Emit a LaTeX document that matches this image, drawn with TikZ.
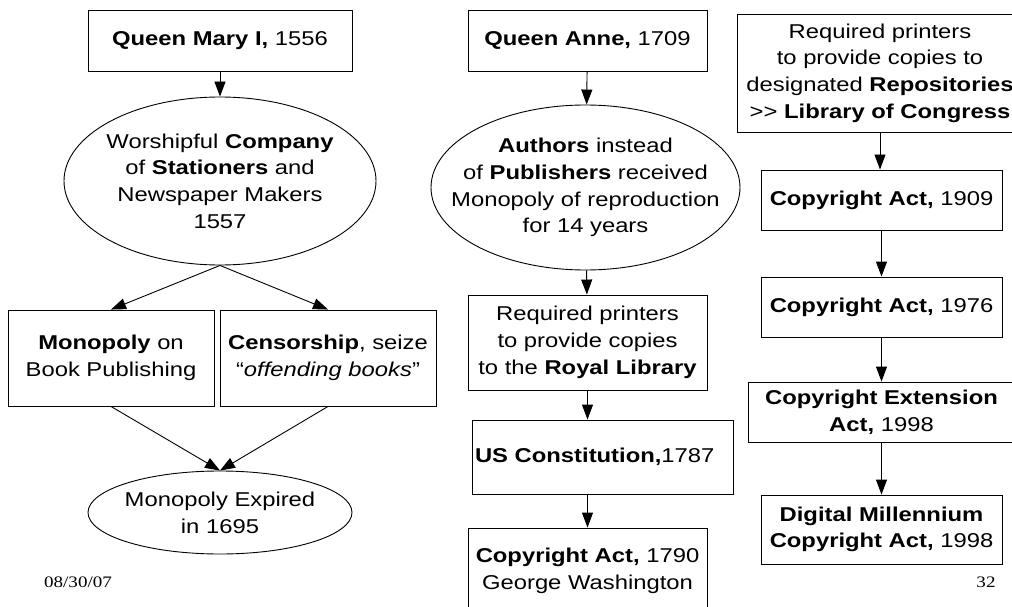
\documentclass[tikz,border=0pt]{standalone}
\usepackage{fontspec}
\usepackage{tikz}
\usetikzlibrary{shapes.geometric,arrows.meta}
\setmainfont{Liberation Sans}[FakeStretch=1.19]
\newfontfamily\footserif{Liberation Serif}[FakeStretch=1.19]

\begin{document}
\begin{tikzpicture}[
    x=1pt, y=-1pt,
    box/.style={
        rectangle, draw, line width=0.9pt,
        align=center, inner sep=2pt,
        font=\fontsize{20}{26.7}\selectfont
    },
    oval/.style={ellipse, draw, line width=0.9pt, inner sep=0pt},
    txt/.style={align=center, inner sep=0pt, font=\fontsize{20}{26.7}\selectfont},
    arrow/.style={-{Triangle[length=15pt,width=11pt]}, line width=0.9pt},
    foot/.style={font=\footserif\fontsize{16}{18}\selectfont, inner sep=0pt}
]
\useasboundingbox (0,0) rectangle (1012,607);

% Left column
\node[box, minimum width=264pt, minimum height=61pt] (mary) at (220, 40.5)
    {\textbf{Queen Mary I,} 1556};
\node[oval, minimum width=312pt, minimum height=168pt,
      label={[txt]center:Worshipful \textbf{Company}\\of \textbf{Stationers} and\\Newspaper Makers\\1557}]
    (company) at (220, 181) {};
\node[box, minimum width=206pt, minimum height=96pt] (monopoly) at (111, 358)
    {\textbf{Monopoly} on\\Book Publishing};
\node[box, minimum width=216pt, minimum height=96pt] (censor) at (328, 358)
    {\textbf{Censorship}, seize\\“\textit{offending books}”};
\node[oval, minimum width=264pt, minimum height=83pt,
      label={[txt]center:Monopoly Expired\\in 1695}]
    (expired) at (220, 512.5) {};

% Middle column
\node[box, minimum width=239pt, minimum height=61pt] (anne) at (587.5, 40.5)
    {\textbf{Queen Anne,} 1709};
\node[oval, minimum width=309pt, minimum height=165pt,
      label={[txt]center:\textbf{Authors} instead\\of \textbf{Publishers} received\\Monopoly of reproduction\\for 14 years}]
    (authors) at (585.5, 187.5) {};
\node[box, minimum width=239pt, minimum height=95pt] (royal) at (587.5, 342.5)
    {Required printers\\to provide copies\\to the \textbf{Royal Library}};
\node[box, text width=255pt, align=left, inner xsep=3pt, minimum height=74pt] (uscons) at (602.5, 457)
    {\textbf{US Constitution,}1787};
\node[box, minimum width=239pt, minimum height=86pt] (act1790) at (587.5, 571)
    {\textbf{Copyright Act,} 1790\\George Washington};

% Right column
\node[box, minimum width=286pt, minimum height=118pt] (repos) at (880, 73)
    {Required printers\\to provide copies to\\designated \textbf{Repositories}\\>\kern0pt> \textbf{Library of Congress}};
\node[box, minimum width=241pt, minimum height=60pt] (act1909) at (881.5, 200)
    {\textbf{Copyright Act,} 1909};
\node[box, minimum width=241pt, minimum height=60pt] (act1976) at (881.5, 307)
    {\textbf{Copyright Act,} 1976};
\node[box, minimum width=266pt, minimum height=60pt] (extension) at (881.5, 412)
    {\textbf{Copyright Extension}\\\textbf{Act,} 1998};
\node[box, minimum width=241pt, minimum height=69pt] (dmca) at (881.5, 529.5)
    {\textbf{Digital Millennium}\\\textbf{Copyright Act,} 1998};

% Footer
\node[foot] (date) at (78, 582) {08/30/07};
\node[foot] (page) at (986, 582) {32};

% Edges
\draw[arrow] (mary) -- (company);
\draw[arrow] (company.south) -- (monopoly.north);
\draw[arrow] (company.south) -- (censor.north);
\draw[arrow] (monopoly.south) -- (expired.north);
\draw[arrow] (censor.south) -- (expired.north);

\draw[arrow] (anne) -- (authors);
\draw[arrow] (authors) -- (royal);
\draw[arrow] (royal) -- (royal |- uscons.north);
\draw[arrow] (royal |- uscons.south) -- (act1790);

\draw[arrow] (repos.south) -- (repos.south |- act1909.north);
\draw[arrow] (act1909) -- (act1976);
\draw[arrow] (act1976) -- (act1976 |- extension.north);
\draw[arrow] (extension.south -| dmca) -- (dmca);

\end{tikzpicture}
\end{document}
